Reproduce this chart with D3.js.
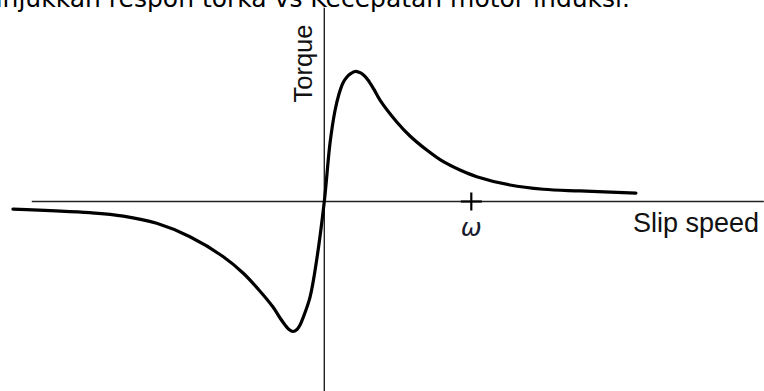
<!DOCTYPE html>
<html>
<head>
<meta charset="utf-8">
<script src="https://cdn.jsdelivr.net/npm/d3@7"></script>
<style>
    body { margin: 0; background: #fff; }
    svg { display: block; }
</style>
</head>
<body>
<div id="chart"></div>
<script>
// Data (slip speed in units of omega, torque relative to peak)
var slip    =   [-2.118, -1.594, -1.367, -1.140, -0.914, -0.687, -0.551, -0.449, -0.349, -0.301,
                 -0.267, -0.240, -0.213, -0.186, -0.165, -0.145, -0.097, -0.052, 0, 0.039,
                 0.073, 0.100, 0.127, 0.154, 0.182, 0.209, 0.236, 0.263, 0.297, 0.338,
                 0.379, 0.493, 0.583, 0.697, 0.810, 0.923, 1.037, 1.263, 1.490, 1.739, 2.120];
var torque  =   [-0.058, -0.086, -0.112, -0.168, -0.271, -0.425, -0.552, -0.675, -0.812, -0.896,
                 -0.950, -0.985, -1.0, -0.985, -0.950, -0.896, -0.735, -0.45, 0, 0.45,
                 0.70, 0.827, 0.912, 0.958, 0.985, 1.0, 0.994, 0.977, 0.935, 0.862,
                 0.78, 0.612, 0.504, 0.396, 0.306, 0.242, 0.191, 0.127, 0.094, 0.081, 0.065];
var x_extent    =   [-1.99, 2.99];
var y_extent    =   [-1.46, 1.49];
var omega_ticks =   [1];
var x_label     =   'Slip speed';
var y_label     =   'Torque';
var tick_label  =   'ω';
var caption     =   'menunjukkan respon torka vs Kecepatan motor induksi.';

// Criar SVG
var chart_width     =   764;
var chart_height    =   391;
var svg             =   d3.select( '#chart' )
    .append( 'svg' )
    .attr( 'width', chart_width )
    .attr( 'height', chart_height );

// Escalas
var x_scale = d3.scaleLinear()
    .domain([0, 1])
    .range([324.3, 471.3]);

var y_scale = d3.scaleLinear()
    .domain([0, 1])
    .range([201.5, 71.5]);

// Caption cut by the top edge, as in the source picture
svg.append( 'text' )
    .text( caption )
    .attr( 'x', 630 )
    .attr( 'y', 7 )
    .attr( 'text-anchor', 'end' )
    .attr( 'font-family', 'DejaVu Sans, Verdana, sans-serif' )
    .attr( 'font-size', 25 )
    .attr( 'fill', '#000' );

// Eixos
svg.append( 'line' )
    .attr( 'x1', x_scale(x_extent[0]) )
    .attr( 'x2', x_scale(x_extent[1]) )
    .attr( 'y1', y_scale(0) )
    .attr( 'y2', y_scale(0) )
    .attr( 'stroke', '#222' )
    .attr( 'stroke-width', 1.4 );

svg.append( 'line' )
    .attr( 'x1', x_scale(0) )
    .attr( 'x2', x_scale(0) )
    .attr( 'y1', y_scale(y_extent[1]) )
    .attr( 'y2', y_scale(y_extent[0]) )
    .attr( 'stroke', '#222' )
    .attr( 'stroke-width', 1.4 );

// Omega tick
var ticks = svg.selectAll( '.omega' )
    .data( omega_ticks )
    .enter()
    .append( 'g' )
    .attr( 'class', 'omega' )
    .attr( 'transform', function( d ){
        return 'translate(' + x_scale(d) + ',' + y_scale(0) + ')';
    });

ticks.append( 'line' )
    .attr( 'x1', -10.5 ).attr( 'x2', 10.5 )
    .attr( 'y1', 0 ).attr( 'y2', 0 )
    .attr( 'stroke', '#000' )
    .attr( 'stroke-width', 2.2 );

ticks.append( 'line' )
    .attr( 'x1', 0 ).attr( 'x2', 0 )
    .attr( 'y1', -9 ).attr( 'y2', 9 )
    .attr( 'stroke', '#000' )
    .attr( 'stroke-width', 2.2 );

ticks.append( 'text' )
    .text( tick_label )
    .attr( 'x', 0 )
    .attr( 'y', 34 )
    .attr( 'text-anchor', 'middle' )
    .attr( 'font-family', 'DejaVu Sans, sans-serif' )
    .attr( 'font-style', 'italic' )
    .attr( 'font-size', 25 )
    .attr( 'fill', '#1a1a2e' );

// Rotulos dos eixos
svg.append( 'text' )
    .text( x_label )
    .attr( 'x', 633 )
    .attr( 'y', 232 )
    .attr( 'font-family', 'Liberation Sans, Arial, sans-serif' )
    .attr( 'font-size', 27 )
    .attr( 'fill', '#111' );

svg.append( 'text' )
    .text( y_label )
    .attr( 'transform', 'translate(311.5,63.5) rotate(-90)' )
    .attr( 'text-anchor', 'middle' )
    .attr( 'font-family', 'Liberation Sans, Arial, sans-serif' )
    .attr( 'font-size', 25.5 )
    .attr( 'fill', '#111' );

// Curva torque x slip
var line = d3.line()
    .x(function( d ){ return x_scale(d[0]); })
    .y(function( d ){ return y_scale(d[1]); })
    .curve(d3.curveCatmullRom.alpha(0.5));

svg.append( 'path' )
    .datum( d3.zip(slip, torque) )
    .attr( 'd', line )
    .attr( 'fill', 'none' )
    .attr( 'stroke', '#000' )
    .attr( 'stroke-width', 3.2 )
    .attr( 'stroke-linejoin', 'round' )
    .attr( 'stroke-linecap', 'round' );
</script>
</body>
</html>
